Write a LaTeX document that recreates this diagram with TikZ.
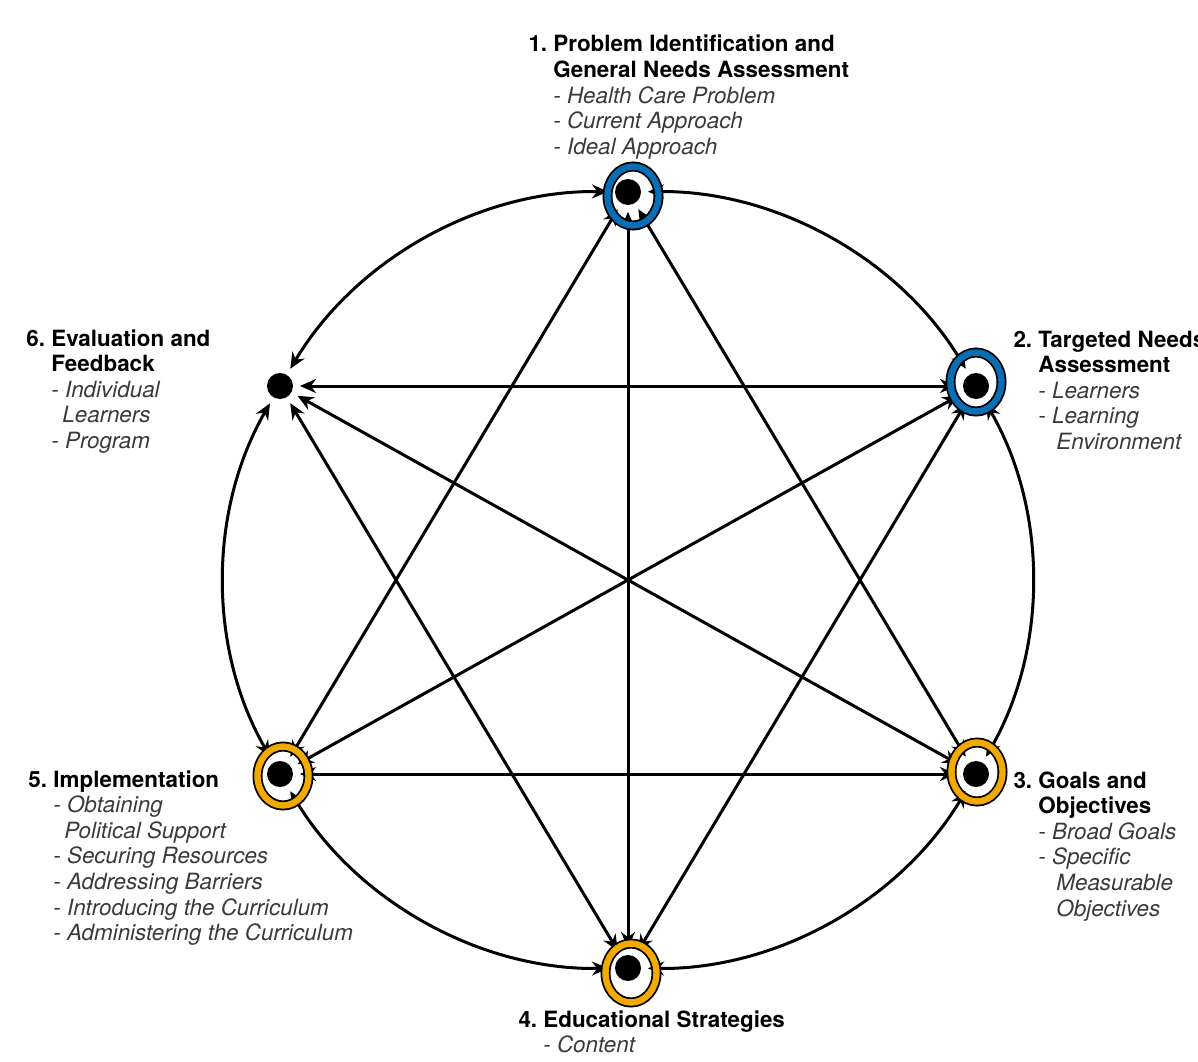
\documentclass[tikz,border=0pt]{standalone}
\usepackage{fontspec}
\setmainfont{TeX Gyre Heros}
\usepackage{xcolor}
\usetikzlibrary{arrows.meta,positioning}

\definecolor{ringblue}{HTML}{0A6EB4}
\definecolor{ringorange}{HTML}{F3AA00}
\definecolor{itemgray}{HTML}{3A3A3A}

\newcommand{\itm}[1]{\textit{\color{itemgray}#1}}

\tikzset{
  dot/.style={circle,fill=black,inner sep=0pt,minimum size=13pt,outer sep=3.5pt},
  ring/.style={draw=black,line width=0.9pt,double distance=3.2pt},
  stepbox/.style={anchor=base west,inner sep=0pt,font=\fontsize{11.2}{12.8}\selectfont}
}

\begin{document}
\begin{tikzpicture}[x=0.5pt,y=0.5pt,>={Stealth[length=8pt,width=7pt]},line width=1.5pt]
  \useasboundingbox (-628,-481) rectangle (570,580);

  \node[dot] (problem) at (0,388) {};
  \node[dot] (targeted) at (348,194) {};
  \node[dot] (goals) at (348,-194) {};
  \node[dot] (strategies) at (0,-388) {};
  \node[dot] (implementation) at (-348,-194) {};
  \node[dot] (evaluation) at (-348,194) {};

  % Arcs round the cycle
  \draw[<->] (problem) to[bend left=30,looseness=0.9] (targeted);
  \draw[<->] (targeted) to[bend left=30,looseness=0.9] (goals);
  \draw[<->] (goals) to[bend left=30,looseness=0.9] (strategies);
  \draw[<->] (strategies) to[bend left=30,looseness=0.9] (implementation);
  \draw[<->] (implementation) to[bend left=30,looseness=0.9] (evaluation);
  \draw[<->] (evaluation) to[bend left=30,looseness=0.9] (problem);

  % Chords
  \draw[<->] (problem) -- (strategies);
  \draw[<->] (problem) -- (goals);
  \draw[<->] (problem) -- (implementation);
  \draw[<->] (targeted) -- (evaluation);
  \draw[<->] (targeted) -- (strategies);
  \draw[<->] (targeted) -- (implementation);
  \draw[<->] (goals) -- (evaluation);
  \draw[<->] (goals) -- (implementation);
  \draw[<->] (strategies) -- (evaluation);

  % Rings
  \draw[ring,double=ringblue] ([shift={(5,-4)}]problem.center) ellipse [x radius=12.75pt,y radius=14.75pt];
  \draw[ring,double=ringblue] ([shift={(0,4)}]targeted.center) ellipse [x radius=12.75pt,y radius=14.75pt];
  \draw[ring,double=ringorange] ([shift={(1,2)}]goals.center) ellipse [x radius=12.75pt,y radius=14.75pt];
  \draw[ring,double=ringorange] ([shift={(3,-5)}]strategies.center) ellipse [x radius=12.75pt,y radius=14.75pt];
  \draw[ring,double=ringorange] ([shift={(3,-2)}]implementation.center) ellipse [x radius=12.75pt,y radius=14.75pt];

  % Labels
  \node[stepbox] (problemlabel) at (-101,528) {\begin{tabular}[t]{@{}l@{\ }l@{}}
    \textbf{1.} & \textbf{Problem Identification and}\\
    & \textbf{General Needs Assessment}\\
    & \itm{- Health Care Problem}\\
    & \itm{- Current Approach}\\
    & \itm{- Ideal Approach}
  \end{tabular}};
  \node[stepbox] (targetedlabel) at (384,233) {\begin{tabular}[t]{@{}l@{\ }l@{}}
    \textbf{2.} & \textbf{Targeted Needs}\\
    & \textbf{Assessment}\\
    & \itm{- Learners}\\
    & \itm{- Learning}\\
    & \itm{\hspace*{9pt}Environment}
  \end{tabular}};
  \node[stepbox] (goalslabel) at (384,-208) {\begin{tabular}[t]{@{}l@{\ }l@{}}
    \textbf{3.} & \textbf{Goals and}\\
    & \textbf{Objectives}\\
    & \itm{- Broad Goals}\\
    & \itm{- Specific}\\
    & \itm{\hspace*{9pt}Measurable}\\
    & \itm{\hspace*{9pt}Objectives}
  \end{tabular}};
  \node[stepbox] (strategieslabel) at (-111,-447) {\begin{tabular}[t]{@{}l@{\ }l@{}}
    \textbf{4.} & \textbf{Educational Strategies}\\
    & \itm{- Content}
  \end{tabular}};
  \node[stepbox] (implementationlabel) at (-601,-207) {\begin{tabular}[t]{@{}l@{\ }l@{}}
    \textbf{5.} & \textbf{Implementation}\\
    & \itm{- Obtaining}\\
    & \itm{\hspace*{5.5pt}Political Support}\\
    & \itm{- Securing Resources}\\
    & \itm{- Addressing Barriers}\\
    & \itm{- Introducing the Curriculum}\\
    & \itm{- Administering the Curriculum}
  \end{tabular}};
  \node[stepbox] (evaluationlabel) at (-603,234) {\begin{tabular}[t]{@{}l@{\ }l@{}}
    \textbf{6.} & \textbf{Evaluation and}\\
    & \textbf{Feedback}\\
    & \itm{- Individual}\\
    & \itm{\hspace*{5.5pt}Learners}\\
    & \itm{- Program}
  \end{tabular}};
\end{tikzpicture}
\end{document}
